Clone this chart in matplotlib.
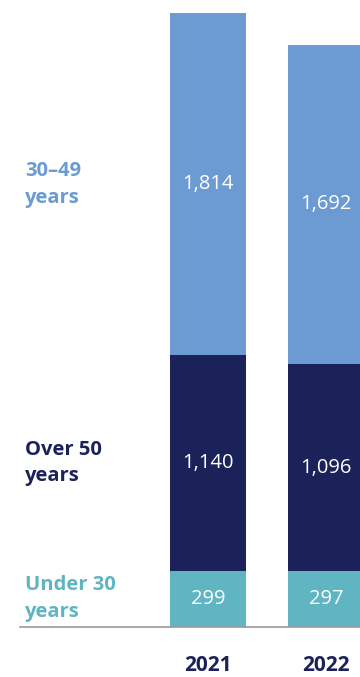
import matplotlib
matplotlib.use("Agg")
import matplotlib.pyplot as plt
import numpy as np

# Employees by age group
years = ["2021", "2022"]
groups = ["Under 30\nyears", "Over 50\nyears", "30–49\nyears"]
under_30 = [299, 297]
over_50 = [1140, 1096]
age_30_49 = [1814, 1692]
series = [under_30, over_50, age_30_49]
colors = ["#5fb5c2", "#1b2259", "#6b9bd2"]

plt.rcParams["font.family"] = ["Open Sans", "DejaVu Sans"]

W, H = 360, 677
fig = plt.figure(figsize=(W / 100, H / 100), dpi=100)
ax = fig.add_axes([20 / W, 50 / H, 340 / W, 614 / H])

x = np.arange(len(years))
bottom = np.zeros(len(years))
for vals, col in zip(series, colors):
    vals = np.array(vals, dtype=float)
    ax.bar(x, vals, width=0.644, bottom=bottom, color=col, linewidth=0, clip_on=False)
    for xi, v, b in zip(x, vals, bottom):
        ax.text(xi, b + v / 2, f"{int(v):,}", ha="center", va="center",
                color="white", fontsize=14.5, fontweight="normal")
    bottom += vals

# Group labels on the left, centred on the 2021 stack
b = 0.0
for name, vals, col in zip(groups, series, colors):
    ax.text(-1.55, b + vals[0] / 2, name, ha="left", va="center", color=col,
            fontsize=14.5, fontweight="bold", linespacing=1.45)
    b += vals[0]

ax.set_xlim(-1.593, 1.288)
ax.set_ylim(0, sum(v[0] for v in series))
ax.set_xticks(x)
ax.set_xticklabels(years, fontsize=15, fontweight="bold", color="#1b2259")
ax.tick_params(axis="x", length=0, pad=20)
ax.set_yticks([])
for s in ["top", "right", "left"]:
    ax.spines[s].set_visible(False)
ax.spines["bottom"].set_color("#9a9a9a")
ax.spines["bottom"].set_linewidth(1.2)

fig.savefig("out.png", dpi=100)
